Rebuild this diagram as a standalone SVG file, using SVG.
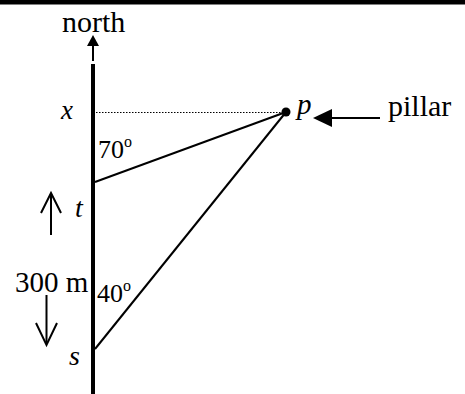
<svg xmlns="http://www.w3.org/2000/svg" width="465" height="394" viewBox="0 0 465 394">
<style>
text{font-family:"Liberation Serif","Times New Roman",serif;fill:#000}
.it{font-style:italic}
.ln{stroke:#000;fill:none}
</style>
<rect x="0" y="0" width="465" height="394" fill="#fff"/>
<rect x="0" y="0" width="465" height="4.5" fill="#000"/>
<g id="connectors">
<line class="ln" x1="93" y1="64" x2="93" y2="394" stroke-width="4"/>
<line class="ln" x1="93" y1="61" x2="93" y2="44" stroke-width="2"/>
<polygon points="93,35 87,46 99,46" fill="#000"/>
<line class="ln" x1="96" y1="112.5" x2="283" y2="112.5" stroke-width="1.2" stroke-dasharray="1.5,1.5"/>
<line class="ln" x1="95" y1="182" x2="286" y2="112" stroke-width="2"/>
<line class="ln" x1="95" y1="349" x2="286" y2="112" stroke-width="2"/>
<line class="ln" x1="330" y1="118" x2="380" y2="118" stroke-width="2"/>
<polygon points="313,118 332,109 332,127" fill="#000"/>
<line class="ln" x1="51" y1="235" x2="51" y2="194" stroke-width="2"/>
<polyline class="ln" points="41,213 51,193 61,213" stroke-width="2"/>
<line class="ln" x1="46.5" y1="295" x2="46.5" y2="344" stroke-width="2"/>
<polyline class="ln" points="36,323 46.5,345 57,323" stroke-width="2"/>
</g>
<g id="north"><text x="62" y="32" font-size="30">north</text></g>
<g id="x"><text class="it" x="61" y="119" font-size="27">x</text></g>
<g id="p"><circle cx="286" cy="112" r="4.5" fill="#000"/><text class="it" x="297" y="114" font-size="29">p</text></g>
<g id="pillar"><text x="388" y="116" font-size="30">pillar</text></g>
<g id="angle70"><text x="98" y="158" font-size="26">70<tspan font-size="16" dy="-11">o</tspan></text></g>
<g id="t"><text class="it" x="75" y="217" font-size="28">t</text></g>
<g id="dist"><text x="15" y="292" font-size="29">300 m</text></g>
<g id="angle40"><text x="97" y="302" font-size="26">40<tspan font-size="16" dy="-11">o</tspan></text></g>
<g id="s"><text class="it" x="69" y="365" font-size="28">s</text></g>
</svg>
